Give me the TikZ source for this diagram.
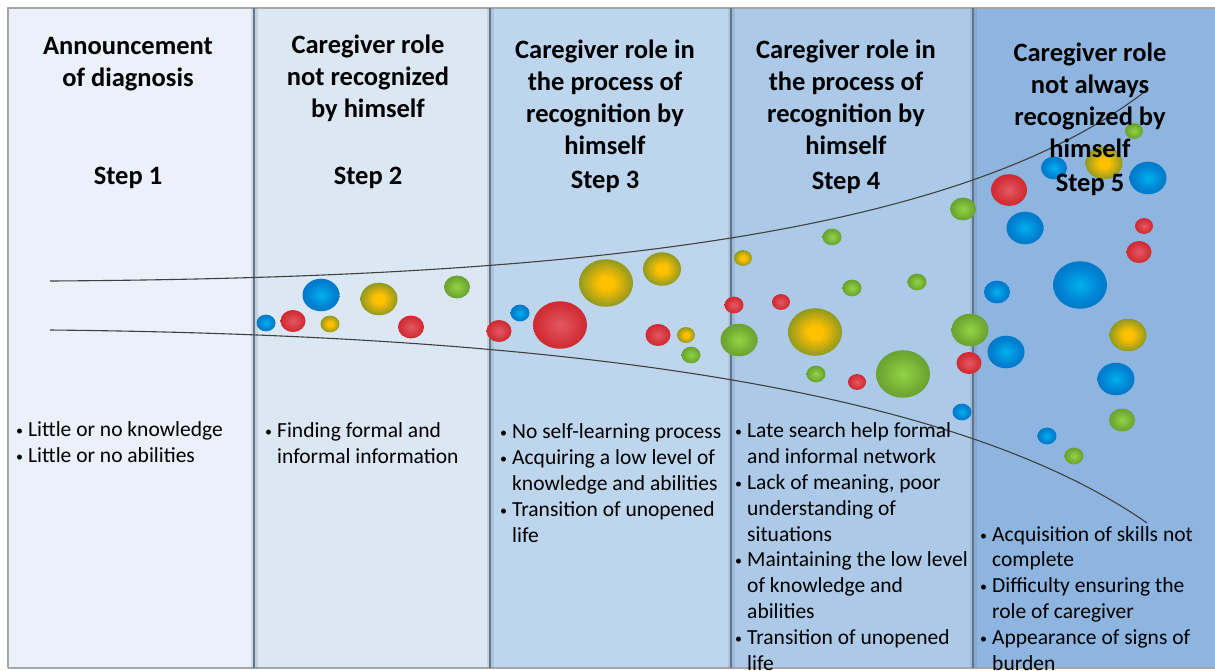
\documentclass[tikz,border=0pt]{standalone}
\usepackage{fontspec}
\setmainfont{Carlito}
\definecolor{colA}{RGB}{234,241,250}
\definecolor{colB}{RGB}{220,231,244}
\definecolor{colC}{RGB}{190,214,237}
\definecolor{colD}{RGB}{172,202,232}
\definecolor{colE}{RGB}{141,181,224}
\definecolor{divline}{RGB}{100,116,136}
\definecolor{bluecen}{RGB}{0,178,238}
\definecolor{bluemid}{RGB}{0,130,210}
\definecolor{blueout}{RGB}{0,96,180}
\definecolor{blueedge}{RGB}{30,70,150}
\definecolor{redcen}{RGB}{228,88,98}
\definecolor{redmid}{RGB}{210,45,52}
\definecolor{redout}{RGB}{190,30,38}
\definecolor{redrim}{RGB}{232,105,55}
\definecolor{gycen}{RGB}{255,192,0}
\definecolor{gymid}{RGB}{150,155,30}
\definecolor{gyout}{RGB}{92,138,42}
\definecolor{gyedge}{RGB}{80,120,40}
\definecolor{grcen}{RGB}{146,212,70}
\definecolor{grmid}{RGB}{112,170,50}
\definecolor{grout}{RGB}{82,128,40}
\definecolor{gredge}{RGB}{70,95,50}
\pgfdeclareradialshading{blueball}{\pgfpoint{0bp}{0bp}}{color(0bp)=(bluecen); color(18bp)=(bluemid); color(45bp)=(blueout); color(50bp)=(blueedge)}
\pgfdeclareradialshading{redball}{\pgfpoint{0bp}{0bp}}{color(0bp)=(redcen); color(22bp)=(redmid); color(45bp)=(redout); color(50bp)=(redrim)}
\pgfdeclareradialshading{gyball}{\pgfpoint{0bp}{0bp}}{color(0bp)=(gycen); color(7bp)=(gycen); color(24bp)=(gymid); color(38bp)=(gyout); color(50bp)=(gyedge)}
\pgfdeclareradialshading{grball}{\pgfpoint{0bp}{0bp}}{color(0bp)=(grcen); color(20bp)=(grmid); color(45bp)=(grout); color(50bp)=(gredge)}
\newcommand\bul{\llap{\fontsize{14}{14}\selectfont\raisebox{1pt}{•}\hspace{5pt}}}
\begin{document}
\begin{tikzpicture}[x=1pt,y=-1pt,
    head/.style={font=\bfseries\fontsize{26.5}{32}\selectfont,align=center,anchor=base,inner sep=0pt},
    body/.style={font=\fontsize{21.5}{25.8}\selectfont,align=left,anchor=base west,inner sep=0pt},
    div/.style={draw=divline,line width=2.5pt},
    funnel/.style={draw=black!75,line width=1.1pt},
    bb/.style={shading=blueball},rb/.style={shading=redball},
    yb/.style={shading=gyball},gb/.style={shading=grball}]
  \useasboundingbox (0,0) rectangle (1215,670);
  % columns
  \fill[colA] (8,8) rectangle (254,668);
  \fill[colB] (254,8) rectangle (490,668);
  \fill[colC] (490,8) rectangle (731,668);
  \fill[colD] (731,8) rectangle (973,668);
  \fill[colE] (973,8) rectangle (1215,668);
  \draw[black!35,line width=2pt] (8,668) -- (8,8) -- (1215,8);
  \draw[black!35,line width=2pt] (8,668) -- (1215,668);
  \foreach \d in {254,490,731,973}{
    \draw[divline,line width=7pt,opacity=.18] (\d,8) -- (\d,668);
    \draw[div] (\d,8) -- (\d,668);}
  % balls
  \foreach \x/\y/\r in {266/323/9.5,321/295/18.5,520/313/9.5,962/412/9.5,1054/168/13,1148/178/18.5,
      1025/228/18.5,997/292/13,1080/285/27,1006/352/18.5,1116/379/18.5,1047/436/9.5}
    \shade[bb] (\x,\y) ellipse [x radius=\r,y radius=.88*\r];
  \foreach \x/\y/\r in {293/321/12.5,411/327/13,499/331/12.5,560/325/27,658/335/12.5,734/305/9.5,
      781/302/9,857/382/9,969/363/12.5,1009/190/18,1144/226/9,1139/252/12.5}
    \shade[rb] (\x,\y) ellipse [x radius=\r,y radius=.88*\r];
  \foreach \x/\y/\r in {330/324/9.5,379/299/18.5,606/283/27,662/269/19,686/335/9,743/258/9,
      815/332/27,1104/163/18.5,1128/335/18.5}
    \shade[yb] (\x,\y) ellipse [x radius=\r,y radius=.88*\r];
  \foreach \x/\y/\r in {457/287/13,691/355/9.5,832/237/9.5,739/340/18.5,852/288/9.5,917/282/9.5,
      816/374/9.5,903/374/27,970/330/18.5,963/209/13,1134/131/9,1122/420/13,1074/456/9.5}
    \shade[gb] (\x,\y) ellipse [x radius=\r,y radius=.88*\r];
  % funnel
  \draw[funnel] (50,281) .. controls (550,278) and (950,240) .. (1143,93);
  \draw[funnel] (50,330) .. controls (550,335) and (950,385) .. (1147,523);
  % titles (base = last line)
  \node[head] (head1) at (128,86) {Announcement\\of diagnosis};
  \node[head] (head2) at (368,117) {Caregiver role\\not recognized\\by himself};
  \node[head] (head3) at (605,154) {Caregiver role in\\the process of\\recognition by\\himself};
  \node[head] (head4) at (846,154) {Caregiver role in\\the process of\\recognition by\\himself};
  \node[head] (head5) at (1090,157) {Caregiver role\\not always\\recognized by\\himself};
  \node[head] (step1) at (128,184) {Step 1};
  \node[head] (step2) at (368,184) {Step 2};
  \node[head] (step3) at (605,188) {Step 3};
  \node[head] (step4) at (846,189) {Step 4};
  \node[head] (step5) at (1090,191) {Step 5};
  % lists
  \node[body] (list1) at (28,462) {\bul Little or no knowledge\\\bul Little or no abilities};
  \node[body] (list2) at (277,463) {\bul Finding formal and\\informal information};
  \node[body] (list3) at (512,542) {\bul No self-learning process\\\bul Acquiring a low level of\\knowledge and abilities\\\bul Transition of unopened\\life};
  \node[body] (list4) at (747,670) {\bul Late search help formal\\and informal network\\\bul Lack of meaning, poor\\understanding of\\situations\\\bul Maintaining the low level\\of knowledge and\\abilities\\\bul Transition of unopened\\life};
  \node[body] (list5) at (992,670) {\bul Acquisition of skills not\\complete\\\bul Difficulty ensuring the\\role of caregiver\\\bul Appearance of signs of\\burden};
\end{tikzpicture}
\end{document}
